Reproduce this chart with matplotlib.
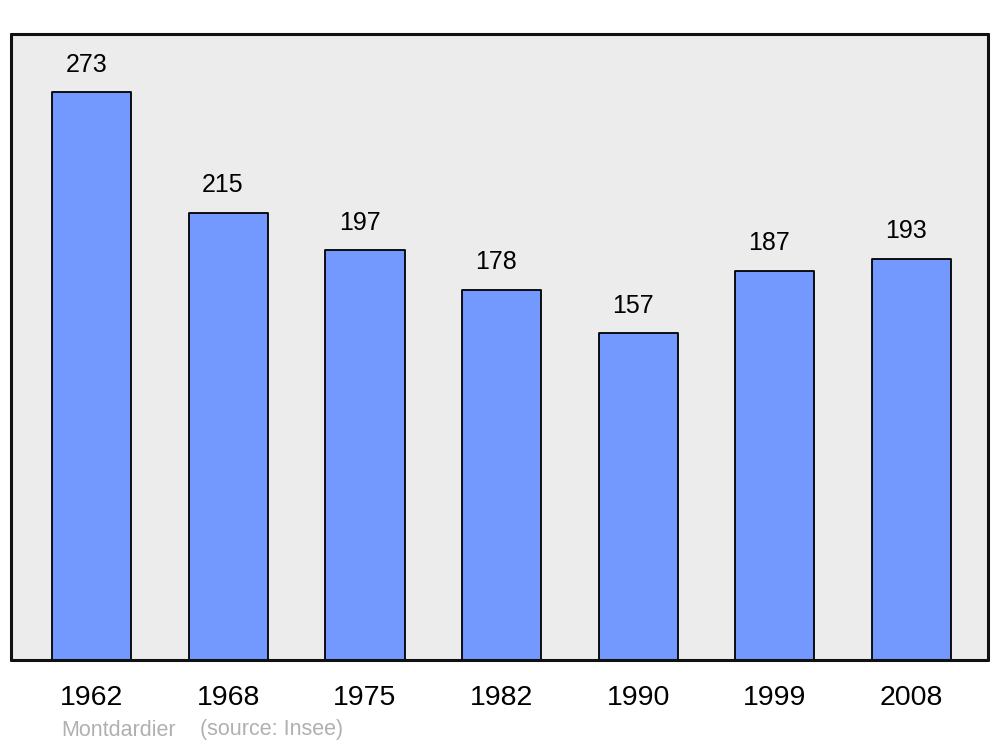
import matplotlib.pyplot as plt

plt.rcParams['font.family'] = ['Liberation Sans', 'DejaVu Sans']

# données de population
years = ['1962', '1968', '1975', '1982', '1990', '1999', '2008']
population = [273, 215, 197, 178, 157, 187, 193]

fig = plt.figure(figsize=(10, 7.47), dpi=100)
ax = fig.add_axes([0.011, 1 - 660 / 747, 0.977, 626 / 747])
ax.set_facecolor('#ececec')

x = range(len(years))
bars = ax.bar(x, population, width=0.58, color='#7399ff', edgecolor='black',
              linewidth=1.3, zorder=2)
for b in bars:
    b.set_joinstyle('round')

for i, v in enumerate(population):
    ax.text(i - 0.04, v + 7.5, str(v), ha='center', va='bottom', fontsize=18)

ax.set_xlim(-0.59, 6.56)
ax.set_ylim(0, 301)
ax.set_xticks(list(x))
ax.set_xticklabels(years, fontsize=20.5)
ax.tick_params(axis='x', length=0, pad=18)
ax.set_yticks([])
for s in ax.spines.values():
    s.set_linewidth(2.2)
    s.set_color('#111111')
    s.set_capstyle('round')

fig.text(0.061, 1 - 730 / 747, 'Montdardier', color='#b0b0b0', fontsize=15.5, va='center')
fig.text(0.2, 1 - 730 / 747, '(source: Insee)', color='#b0b0b0', fontsize=15.5, va='center')

fig.savefig('out.png', dpi=100)
